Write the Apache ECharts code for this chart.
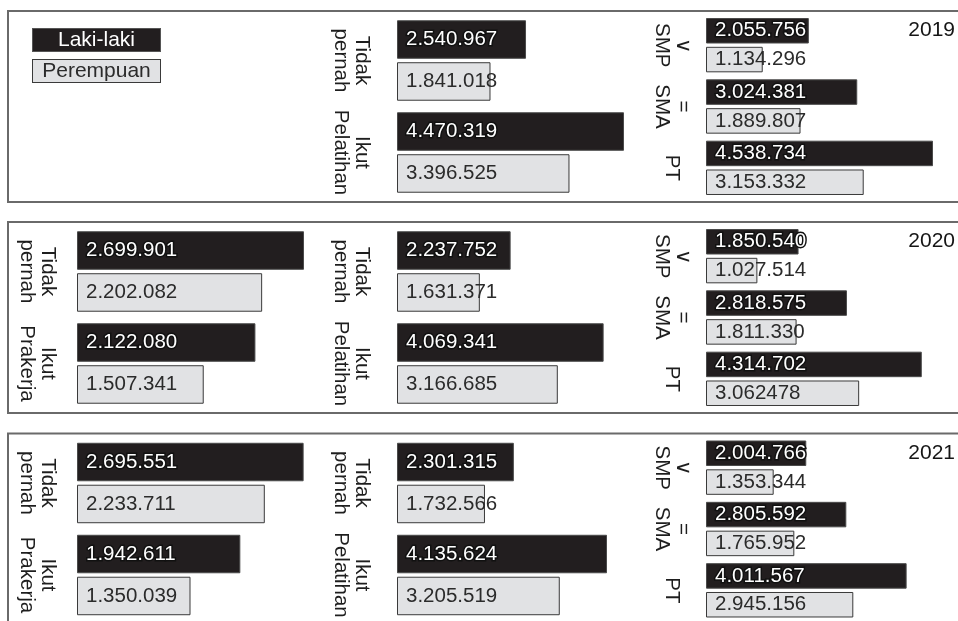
<!DOCTYPE html>
<html>
<head>
<meta charset="utf-8">
<script src="https://cdn.jsdelivr.net/npm/echarts@6/dist/echarts.min.js"></script>
<style>html,body{margin:0;padding:0;background:#fff}#c{width:958px;height:621px}</style>
</head>
<body>
<div id="c"></div>
<script>
// ---- data ----
const years = ['2019', '2020', '2021'];
const seriesNames = ['Laki-laki', 'Perempuan'];
const prakerjaCats = ['Tidak\npernah', 'Ikut\nPrakerja'];
const pelatihanCats = ['Tidak\npernah', 'Ikut\nPelatihan'];
const pendidikanCats = ['\u2228\nSMP', '=\nSMA', 'PT'];

const prakerjaLaki2020 = [2699901, 2122080];
const prakerjaPerempuan2020 = [2202082, 1507341];
const prakerjaLaki2021 = [2695551, 1942611];
const prakerjaPerempuan2021 = [2233711, 1350039];

const pelatihanLaki2019 = [2540967, 4470319];
const pelatihanPerempuan2019 = [1841018, 3396525];
const pelatihanLaki2020 = [2237752, 4069341];
const pelatihanPerempuan2020 = [1631371, 3166685];
const pelatihanLaki2021 = [2301315, 4135624];
const pelatihanPerempuan2021 = [1732566, 3205519];

const pendidikanLaki2019 = [2055756, 3024381, 4538734];
const pendidikanPerempuan2019 = [1134296, 1889807, 3153332];
const pendidikanLaki2020 = [1850540, 2818575, 4314702];
const pendidikanPerempuan2020 = [1027514, 1811330, 3062478];
const pendidikanLaki2021 = [2004766, 2805592, 4011567];
const pendidikanPerempuan2021 = [1353344, 1765952, 2945156];
// label text exactly as printed in the source (one value lacks a separator)
const pendidikanPerempuan2020Text = ['1.027.514', '1.811.330', '3.062478'];

// ---- layout ----
const FONT = '"Liberation Sans", Arial, Helvetica, sans-serif';
const panelTops = [11, 222, 433.5];
const PANEL_H = 191;
const BLACK = '#221e1f', GRAY = '#e1e2e4';

const columns = [
  { cats: prakerjaCats, left: 77, margin: 40, barWidth: 38.5, barGap: '9%',
    laki: [null, prakerjaLaki2020, prakerjaLaki2021],
    per: [null, prakerjaPerempuan2020, prakerjaPerempuan2021], perText: [null, null, null] },
  { cats: pelatihanCats, left: 397, margin: 46, barWidth: 38.5, barGap: '9%',
    laki: [pelatihanLaki2019, pelatihanLaki2020, pelatihanLaki2021],
    per: [pelatihanPerempuan2019, pelatihanPerempuan2020, pelatihanPerempuan2021], perText: [null, null, null] },
  { cats: pendidikanCats, left: 706, margin: 34, barWidth: 25.5, barGap: '13%',
    laki: [pendidikanLaki2019, pendidikanLaki2020, pendidikanLaki2021],
    per: [pendidikanPerempuan2019, pendidikanPerempuan2020, pendidikanPerempuan2021],
    perText: [null, pendidikanPerempuan2020Text, null] }
];

function fmt(v) { return String(v).replace(/\B(?=(\d{3})+(?!\d))/g, '.'); }

const grid = [], xAxis = [], yAxis = [], series = [], title = [], graphic = [];
years.forEach((y, p) => {
  graphic.push({ type: 'rect', shape: { x: 8, y: panelTops[p], width: 1000, height: PANEL_H },
    style: { fill: 'none', stroke: '#6a6a6a', lineWidth: 2 }, silent: true, z: 0 });
  title.push({ text: y, right: 3, top: panelTops[p] + 9, padding: 0,
    textStyle: { fontFamily: FONT, fontSize: 21, fontWeight: 'normal', color: '#151515' } });
});

let idx = 0;
years.forEach((y, p) => {
  columns.forEach(col => {
    if (!col.laki[p]) return;
    let colMax = 0;
    col.laki.concat(col.per).forEach(a => { if (a) a.forEach(v => { if (v > colMax) colMax = v; }); });
    grid.push({ left: col.left, width: 227, top: panelTops[p] + 3.5, height: 184, containLabel: false, outerBoundsMode: 'none' });
    xAxis.push({ type: 'value', gridIndex: idx, min: 0, max: colMax, show: false });
    yAxis.push({ type: 'category', gridIndex: idx, data: col.cats, inverse: true,
      axisLine: { show: false }, axisTick: { show: false }, splitLine: { show: false },
      axisLabel: { interval: 0, rotate: -90, margin: col.margin, align: 'center', verticalAlign: 'middle',
        fontFamily: FONT, fontSize: 20.5, lineHeight: 21, color: '#1e1e1e' } });
    const perText = col.perText[p];
    series.push({ type: 'bar', name: seriesNames[0], xAxisIndex: idx, yAxisIndex: idx, data: col.laki[p],
      barWidth: col.barWidth, barGap: col.barGap, silent: true,
      itemStyle: { color: BLACK, borderColor: '#4a4a4a', borderWidth: 1 },
      label: { show: true, position: 'insideLeft', distance: 9, fontFamily: FONT, fontSize: 20.5,
        color: '#fff', textBorderColor: '#111', textBorderWidth: 3,
        formatter: d => fmt(d.value) } });
    series.push({ type: 'bar', name: seriesNames[1], xAxisIndex: idx, yAxisIndex: idx, data: col.per[p],
      barWidth: col.barWidth, barGap: col.barGap, silent: true,
      itemStyle: { color: GRAY, borderColor: '#3a3a3a', borderWidth: 1 },
      label: { show: true, position: 'insideLeft', distance: 9, fontFamily: FONT, fontSize: 20.5,
        color: '#2b2b2b',
        formatter: d => perText ? perText[d.dataIndex] : fmt(d.value) } });
    idx++;
  });
});

const chart = echarts.init(document.getElementById('c'), null, { renderer: 'canvas' });
chart.setOption({
  animation: false,
  backgroundColor: '#fff',
  color: [BLACK, GRAY],
  title: title,
  graphic: graphic,
  legend: {
    orient: 'vertical', left: 27, top: 28, itemGap: 7, itemWidth: 0, itemHeight: 0, icon: 'rect',
    selectedMode: false, data: seriesNames, padding: 0,
    formatter: n => n === seriesNames[0] ? '{lk|' + n + '}' : '{pr|' + n + '}',
    textStyle: {
      rich: {
        lk: { width: 127, height: 22, align: 'center', backgroundColor: BLACK, color: '#fff',
          fontFamily: FONT, fontSize: 21, borderColor: '#555', borderWidth: 1 },
        pr: { width: 127, height: 22, align: 'center', backgroundColor: GRAY, color: '#2b2b2b',
          fontFamily: FONT, fontSize: 21, borderColor: '#3a3a3a', borderWidth: 1 }
      }
    }
  },
  grid: grid, xAxis: xAxis, yAxis: yAxis, series: series
});
</script>
</body>
</html>
